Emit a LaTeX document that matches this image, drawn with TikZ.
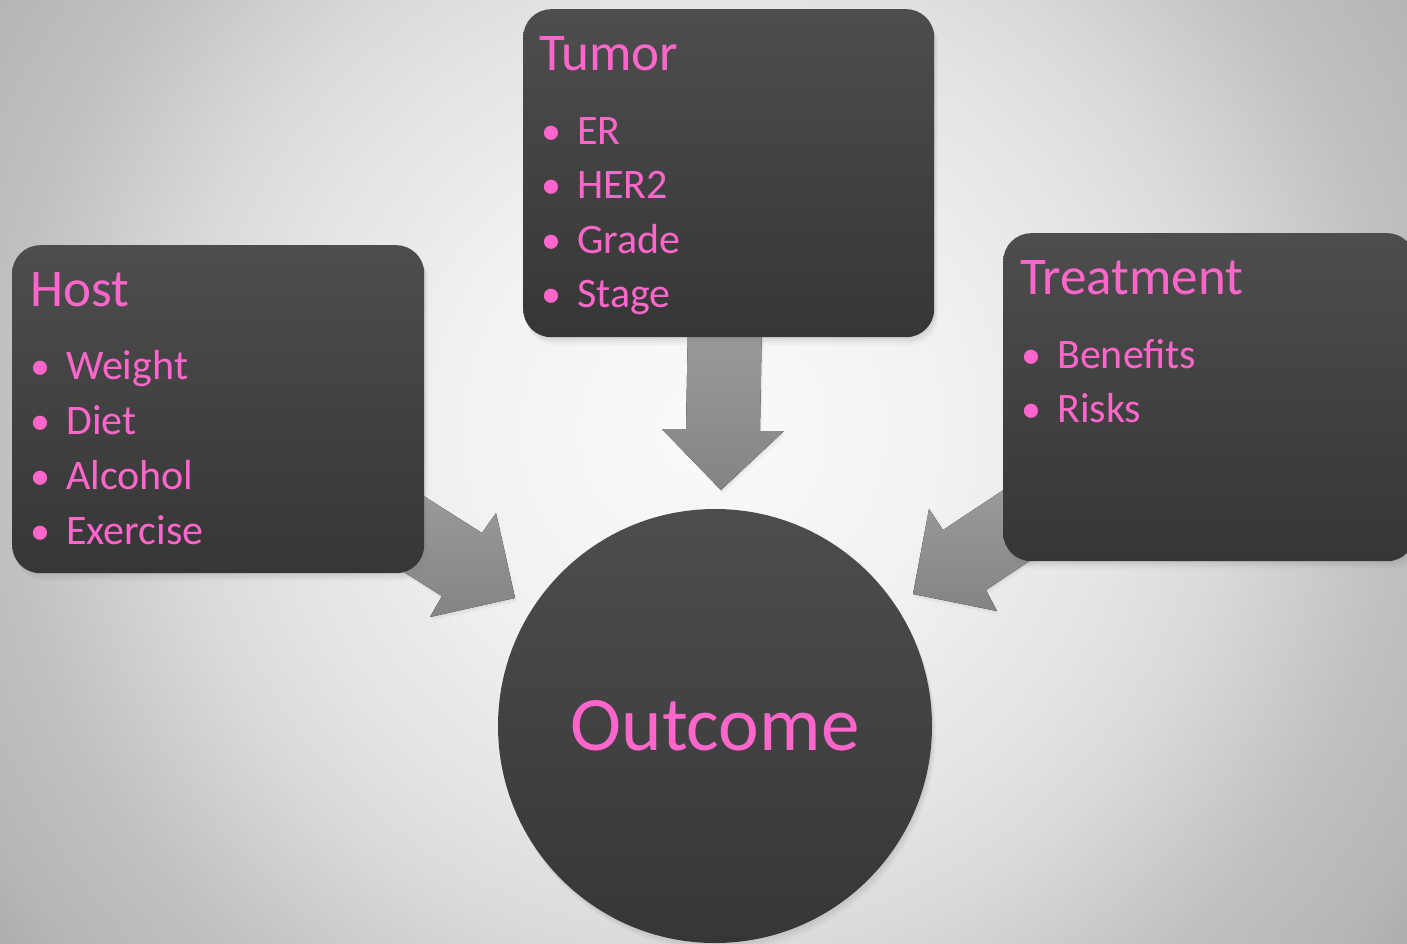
\documentclass[tikz,border=0pt]{standalone}
\usepackage{fontspec}
\setmainfont{Carlito}
\usetikzlibrary{shadows}
\definecolor{pinktxt}{HTML}{FF66CC}
\definecolor{boxtop}{HTML}{4D4D4D}
\definecolor{boxbot}{HTML}{363636}
\definecolor{arrtop}{HTML}{9C9C9C}
\definecolor{arrbot}{HTML}{848484}
\definecolor{bg0}{HTML}{FAFAFA}
\definecolor{bg1}{HTML}{F1F1F1}
\definecolor{bg2}{HTML}{E4E4E4}
\definecolor{bg3}{HTML}{DADADA}
\definecolor{bg4}{HTML}{C0C0C0}
\definecolor{bg5}{HTML}{B6B6B6}
\definecolor{bg6}{HTML}{AAAAAA}
\definecolor{bg7}{HTML}{A0A0A0}
\pgfdeclareradialshading{bgshade}{\pgfpoint{0bp}{0bp}}{%
  color(0bp)=(bg0); color(255bp)=(bg1); color(425bp)=(bg2); color(527bp)=(bg3);
  color(700bp)=(bg4); color(816bp)=(bg5); color(884bp)=(bg6); color(1000bp)=(bg7)}
\tikzset{
  softshadow/.style={
    drop shadow={opacity=0.07, shadow xshift=1pt, shadow yshift=-2pt},
    drop shadow={opacity=0.07, shadow xshift=2pt, shadow yshift=-4pt},
    drop shadow={opacity=0.06, shadow xshift=3pt, shadow yshift=-6pt},
    drop shadow={opacity=0.05, shadow xshift=4pt, shadow yshift=-8pt}}}
\begin{document}
\begin{tikzpicture}[x=1pt,y=-1pt,
  box/.style={rounded corners=28pt, top color=boxtop, bottom color=boxbot, draw=none,
    inner sep=0pt, anchor=north west, softshadow},
  blockarrow/.style={top color=arrtop, bottom color=arrbot, draw=none,
    drop shadow={opacity=0.08, shadow xshift=1pt, shadow yshift=-2pt},
    drop shadow={opacity=0.06, shadow xshift=2pt, shadow yshift=-4pt}},
  title/.style={text=pinktxt, font=\fontsize{53}{53}\selectfont, anchor=base west, inner sep=0pt},
  item/.style={text=pinktxt, font=\fontsize{42}{42}\selectfont, anchor=base west, inner sep=0pt},
  bul/.style={text=pinktxt, font=\fontsize{40}{40}\selectfont, anchor=base, inner sep=0pt}]
% background
\useasboundingbox (0,0) rectangle (1407,943);
\begin{scope}
  \clip (0,0) rectangle (1407,943);
  \node[inner sep=0pt, outer sep=0pt] (bgc) at (703,430) {\pgfuseshading{bgshade}};
\end{scope}
% block arrows
\filldraw[blockarrow] (688,320) -- (686,429) -- (662,429) -- (721,490) -- (784,431) -- (760,431) -- (762,320) -- cycle;
\filldraw[blockarrow] (400,481) -- (482,533) -- (496,513) -- (515,598) -- (430,617) -- (442,596) -- (396,567) -- cycle;
\filldraw[blockarrow] (1020,479) -- (943,530) -- (929,509) -- (913,594) -- (997,611) -- (986,590) -- (1040,554) -- cycle;
% boxes
\node[box, minimum width=412pt, minimum height=328pt] (host) at (12,245) {};
\node[box, minimum width=411pt, minimum height=328pt] (tumor) at (523,9) {};
\node[box, minimum width=412pt, minimum height=328pt] (treat) at (1003,233) {};
\node[circle, minimum size=434pt, inner sep=0pt, top color=boxtop, bottom color=boxbot,
  softshadow] (outcome) at (715,726) {};
% texts
\node[title] (hostT) at (30,306) {Host};
\node[bul] (hb1) at (40,379) {•}; \node[item] (h1) at (66,379) {Weight};
\node[bul] (hb2) at (40,434) {•}; \node[item] (h2) at (66,434) {Diet};
\node[bul] (hb3) at (40,489) {•}; \node[item] (h3) at (66,489) {Alcohol};
\node[bul] (hb4) at (40,544) {•}; \node[item] (h4) at (66,544) {Exercise};
\node[title] (tumorT) at (539,70) {Tumor};
\node[bul] (tb1) at (551,144) {•}; \node[item] (t1) at (577,144) {ER};
\node[bul] (tb2) at (551,198) {•}; \node[item] (t2) at (577,198) {HER2};
\node[bul] (tb3) at (551,253) {•}; \node[item] (t3) at (577,253) {Grade};
\node[bul] (tb4) at (551,307) {•}; \node[item] (t4) at (577,307) {Stage};
\node[title] (treatT) at (1020,294) {Treatment};
\node[bul] (rb1) at (1031,368) {•}; \node[item] (r1) at (1057,368) {Benefits};
\node[bul] (rb2) at (1031,422) {•}; \node[item] (r2) at (1057,422) {Risks};
\node[text=pinktxt, font=\fontsize{77}{77}\selectfont, inner sep=0pt, anchor=base] (outT) at (715,750) {Outcome};
\end{tikzpicture}
\end{document}
